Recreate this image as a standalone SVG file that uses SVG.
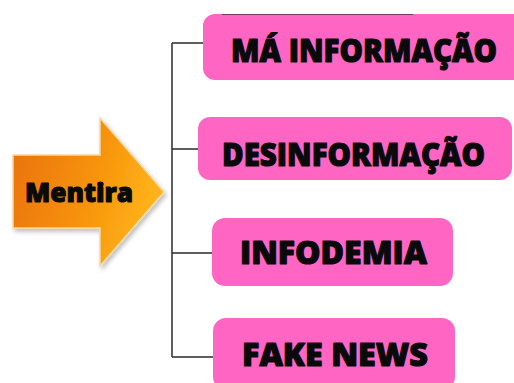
<svg xmlns="http://www.w3.org/2000/svg" width="514" height="383" viewBox="0 0 514 383">
<style>
.box{fill:#FF66C4;}
.lbl{font-family:"Open Sans","Noto Sans",sans-serif;font-weight:800;fill:#0a0a0a;stroke:#0a0a0a;stroke-width:1.1;stroke-linejoin:round;text-anchor:start;}
.con{stroke:#2a2a2a;stroke-width:1.5;fill:none;}
</style>
<defs>
<linearGradient id="og" x1="0" y1="0" x2="1" y2="0.3">
<stop offset="0" stop-color="#E8700C"/>
<stop offset="0.6" stop-color="#F7930A"/>
<stop offset="1" stop-color="#FFB21A"/>
</linearGradient>
<filter id="sh" x="-10%" y="-10%" width="130%" height="130%">
<feDropShadow dx="2" dy="3" stdDeviation="2" flood-color="#000" flood-opacity="0.25"/>
</filter>
</defs>
<rect width="514" height="383" fill="#ffffff"/>
<g id="connectors">
<path class="con" d="M172,43 V357"/>
<path class="con" d="M172,43 H204"/>
<path class="con" d="M172,149 H199"/>
<path class="con" d="M172,253 H213"/>
<path class="con" d="M172,357 H214"/>
</g>
<g id="mentira">
<path d="M13,155 H100 V118 L164,192 L100,266 V228 H13 Z" fill="url(#og)" stroke="#F6D9A0" stroke-width="1.5" filter="url(#sh)"/>
<text class="lbl" x="25" y="202" font-size="27" stroke-width="0.8" textLength="108" lengthAdjust="spacingAndGlyphs">Mentira</text>
</g>
<g id="ma-informacao">
<rect class="box" x="203" y="14" width="311" height="66" rx="12"/>
<rect class="box" x="490" y="14" width="24" height="66"/>
<line x1="222" y1="14.5" x2="413" y2="14.5" stroke="#7a3a60" stroke-width="1"/>
<text class="lbl" x="231" y="62" font-size="31" textLength="266" lengthAdjust="spacingAndGlyphs">MÁ INFORMAÇÃO</text>
</g>
<g id="desinformacao">
<rect class="box" x="198" y="117" width="314" height="63" rx="12"/>
<text class="lbl" x="222" y="166" font-size="31" textLength="263" lengthAdjust="spacingAndGlyphs">DESINFORMAÇÃO</text>
</g>
<g id="infodemia">
<rect class="box" x="212" y="218" width="241" height="68" rx="13"/>
<text class="lbl" x="240" y="264" font-size="31" textLength="187" lengthAdjust="spacingAndGlyphs">INFODEMIA</text>
</g>
<g id="fake-news">
<rect class="box" x="213" y="318" width="242" height="72" rx="13"/>
<text class="lbl" x="242" y="366" font-size="31" textLength="186" lengthAdjust="spacingAndGlyphs">FAKE NEWS</text>
</g>
</svg>
